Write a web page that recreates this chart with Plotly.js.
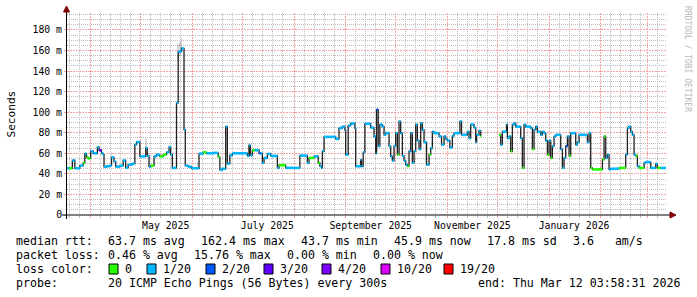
<!DOCTYPE html>
<html><head><meta charset="utf-8">
<script src="https://cdn.plot.ly/plotly-3.0.1.min.js"></script>
<style>html,body{margin:0;padding:0;background:#fff}</style>
</head><body><div id="chart" style="width:697px;height:297px"></div>
<script>
// ---- data ----
const stepStart = [
'2025-03-17 12:00','2025-03-19','2025-03-21','2025-03-22 12:00','2025-03-25 12:00','2025-03-27 12:00','2025-03-28 12:00','2025-03-29 12:00','2025-03-30 12:00',
'2025-04-01','2025-04-02 12:00','2025-04-05','2025-04-06','2025-04-07 12:00','2025-04-08 12:00','2025-04-09','2025-04-10 12:00','2025-04-12 12:00','2025-04-13 12:00',
'2025-04-15','2025-04-16','2025-04-18 12:00','2025-04-20 12:00','2025-04-22','2025-04-23 12:00','2025-04-26','2025-04-27 12:00','2025-04-28 12:00','2025-04-30 12:00',
'2025-05-04','2025-05-05','2025-05-06','2025-05-07','2025-05-09','2025-05-10 12:00','2025-05-12 12:00','2025-05-14 12:00','2025-05-16 12:00','2025-05-18','2025-05-19',
'2025-05-20','2025-05-22 12:00','2025-05-23 12:00','2025-05-25 12:00','2025-05-27','2025-05-27 18:00','2025-05-29 12:00','2025-05-31 12:00',
'2025-06-05','2025-06-07 12:00','2025-06-09 12:00','2025-06-13 12:00','2025-06-16 12:00','2025-06-17 12:00','2025-06-19','2025-06-21','2025-06-22','2025-06-23 12:00','2025-06-25',
'2025-07-04','2025-07-05','2025-07-05 18:00','2025-07-07','2025-07-08 12:00','2025-07-11','2025-07-12','2025-07-13','2025-07-14','2025-07-16','2025-07-18','2025-07-22','2025-07-23','2025-07-27',
'2025-08-04 12:00','2025-08-09','2025-08-10','2025-08-13','2025-08-15 12:00','2025-08-16 12:00','2025-08-17 12:00','2025-08-18','2025-08-19','2025-08-26','2025-08-28','2025-08-30','2025-08-31 12:00',
'2025-09-01','2025-09-02 12:00','2025-09-04','2025-09-06 12:00','2025-09-07','2025-09-10','2025-09-10 12:00','2025-09-11 12:00','2025-09-12 12:00','2025-09-16','2025-09-18','2025-09-19','2025-09-19 12:00',
'2025-09-20 12:00','2025-09-21 12:00','2025-09-23','2025-09-24','2025-09-25','2025-09-27','2025-09-28','2025-09-29','2025-09-30',
'2025-10-01','2025-10-02','2025-10-03','2025-10-04','2025-10-05','2025-10-06','2025-10-07','2025-10-08','2025-10-09','2025-10-10','2025-10-11','2025-10-12','2025-10-13','2025-10-14','2025-10-15',
'2025-10-16','2025-10-17','2025-10-18','2025-10-19 12:00','2025-10-21','2025-10-22','2025-10-23','2025-10-24','2025-10-27','2025-10-28 12:00','2025-10-30','2025-10-31',
'2025-11-01','2025-11-02 12:00','2025-11-04','2025-11-05','2025-11-08 12:00','2025-11-09 12:00','2025-11-13','2025-11-14','2025-11-15','2025-11-17','2025-11-18','2025-11-18 12:00','2025-11-20','2025-11-21','2025-11-21 12:00',
'2025-12-02','2025-12-03','2025-12-04','2025-12-06 12:00','2025-12-07','2025-12-08','2025-12-09','2025-12-10','2025-12-11','2025-12-12','2025-12-15','2025-12-16','2025-12-17','2025-12-18',
'2025-12-21','2025-12-22','2025-12-23','2025-12-24','2025-12-25','2025-12-27','2025-12-28','2025-12-29','2025-12-30','2025-12-31',
'2026-01-01','2026-01-02','2026-01-03','2026-01-04','2026-01-05','2026-01-08','2026-01-09','2026-01-10','2026-01-11','2026-01-12','2026-01-13','2026-01-14','2026-01-17','2026-01-18','2026-01-19',
'2026-01-24','2026-01-25','2026-01-26','2026-01-27',
'2026-02-02','2026-02-03','2026-02-04','2026-02-05','2026-02-06','2026-02-07','2026-02-12','2026-02-16','2026-02-17','2026-02-18','2026-02-19','2026-02-20','2026-02-21','2026-02-22','2026-02-23','2026-02-24','2026-02-27','2026-02-28',
'2026-03-03','2026-03-06','2026-03-07','2026-03-09'
];
const medianMs = [
45.5,45.5,53,45.5,48,50.7,59.7,56,55,
62,60,66,63,60,58.7,46.8,47.5,48,56,
52,47,48,53,46,49,50,68.4,71,57,
65,57.5,47,48,57,58.7,57,58.7,61,66,58.7,
45.8,109,159,162,83,48,47,45.5,
59.7,61,60,60.4,56.5,44,45,86,50,58,60,
57.5,67.8,58,63,63,60,60,50.7,55.5,59.4,57.5,45.8,48.4,45.8,
57.8,50.7,55.5,57,50.7,47.6,45.8,62,76,74,84.6,86,82.5,
58.7,87,89,84.6,47.4,53.7,47.4,61,88.8,85,76.5,60,102.4,
67,88,86,78,79.6,67,57,52.8,67,
79.6,58.7,91,79.6,57.5,52.8,49,47.6,62,79.6,50.7,62,88,72.4,64,
89.3,82.8,70.8,49,58.7,65,81,79.6,76.5,68.4,76.5,74,
72.4,65.7,77,79.6,91,78,81,74.7,88,85,70.8,78,82,76.5,null,
78,68.4,81,88,74.7,76.5,62,88,89.3,86,74.7,45.8,88,86,
84.6,64,83,86,81,78,81,79.6,72.4,58.7,
72.4,55.5,67,76.5,78,64,45.8,55.5,67,76.5,57.5,79.6,68.4,70.8,78,
70.8,79.6,45.8,44.3,
54,76.5,55.5,58.7,44.3,45,45.8,58.7,84.6,86,81,78,58.7,57.5,47.6,45.8,50.7,51.5,
45.8,49.7,45.8,45.8
];
// loss level index into lossLabels (0 = 0/20, 1 = 1/20, 2 = 2/20, 3 = 3/20 ...)
const lossLevel = [
1,0,1,1,1,0,1,0,0,
1,1,1,3,1,1,1,1,1,1,
1,1,1,1,1,1,1,1,1,1,
1,1,1,0,1,1,0,0,1,1,1,
1,1,1,1,1,1,1,1,
1,0,1,1,0,1,1,1,1,1,1,
1,1,1,0,1,2,1,1,1,1,1,1,0,1,
1,1,0,1,0,1,1,1,1,1,1,1,1,
1,1,1,1,1,1,1,1,1,1,1,1,2,
1,1,1,1,1,1,1,1,1,
1,0,1,1,1,1,1,0,1,1,1,1,1,1,1,
1,1,1,1,0,1,1,1,1,1,1,1,
1,1,1,1,1,1,1,1,1,1,1,1,1,0,0,
0,1,1,1,1,1,0,1,1,1,1,0,1,1,
1,0,1,1,1,1,1,1,1,0,
1,0,1,1,1,1,1,1,2,1,0,1,1,1,1,
1,1,0,0,
0,0,1,1,1,1,0,1,1,1,1,1,1,0,1,0,1,1,
1,1,0,1
];
// smoke (spread of the pings) where it is visible
const smokeDates = ['2025-04-13 12:00','2025-05-04','2025-05-23 12:00','2025-05-24 12:00','2025-05-25 12:00','2025-06-04','2025-07-05','2025-09-19 12:00','2026-02-17'];
const smokeLow  = [52, 57, 150, 155, 160, 45, 58, 62, 80];
const smokeHigh = [61, 75, 166, 168, 172, 52, 70, 103, 88];

const lossLabels = ['0','1/20','2/20','3/20','4/20','10/20','19/20'];
const lossColors = ['#26ff00','#00b8ff','#0059ff','#5e00ff','#7e00ff','#dd00ff','#ff0000'];
const yTickVals = [0,20,40,60,80,100,120,140,160,180];
const yTickText = ['0','20 m','40 m','60 m','80 m','100 m','120 m','140 m','160 m','180 m'];
const xLabelDates = ['2025-05-16','2025-07-16','2025-09-16','2025-11-16','2026-01-16'];
const xLabelText = ['May 2025','July 2025','September 2025','November 2025','January 2026'];
const rangeStart = '2025-03-17 19:00', rangeEnd = '2026-03-12 03:58:31';

// ---- grid positions (month starts, sub-grid days, 5 ms sub-grid) ----
function pad(n){return (n<10?'0':'')+n;}
const monthStarts = [], minorDays = [];
for (let y=2025; y<=2026; y++) for (let m=1; m<=12; m++){
  const s = y+'-'+pad(m)+'-01';
  if (s >= '2025-03-01' && s <= '2026-03-31'){
    monthStarts.push(s);
    [7,13,19,25].forEach(d=>minorDays.push(y+'-'+pad(m)+'-'+pad(d)));
  }
}
const yMinor = [];
for (let v=5; v<200; v+=5) if (v%20) yMinor.push(v);

// ---- traces ----
const traces = [];
traces.push({type:'bar', x:smokeDates, base:smokeLow, y:smokeHigh.map((h,i)=>h-smokeLow[i]),
  width:86400000, marker:{color:'rgba(0,0,0,0.16)', line:{width:0}}, hoverinfo:'skip', showlegend:false});
const lx = stepStart.concat([rangeEnd]);
const ly = medianMs.concat([medianMs[medianMs.length-1]]);
traces.push({type:'scatter', mode:'lines', x:lx, y:ly, line:{shape:'hv', color:'#202020', width:1.3},
  connectgaps:false, hoverinfo:'skip', showlegend:false});
lossColors.forEach((c,k)=>{
  const sx=[], sy=[];
  for (let i=0;i<stepStart.length;i++){
    if (medianMs[i]==null || lossLevel[i]!==k) continue;
    const tEnd = i+1<stepStart.length ? stepStart[i+1] : rangeEnd;
    sx.push(stepStart[i], tEnd, null); sy.push(medianMs[i], medianMs[i], null);
  }
  traces.push({type:'scatter', mode:'lines', x:sx, y:sy, line:{color:c, width:2.6},
    connectgaps:false, hoverinfo:'skip', showlegend:false});
});
traces.push({type:'scatter', mode:'lines', x:[], y:[], xaxis:'x2', yaxis:'y', showlegend:false});

// ---- pixel helpers for decorations ----
const L=67, R=666, T=13, B=215;
const px = v => (v-L)/(R-L);
const py = v => (B-v)/(B-T);
const MONO = 'DejaVu Sans Mono';
const legendFont = {family:MONO, size:11.6, color:'#000'};

const shapes = [
  {type:'line', xref:'paper', yref:'paper', x0:px(62), x1:px(670), y0:py(215), y1:py(215), line:{color:'#000', width:1}},
  {type:'line', xref:'paper', yref:'paper', x0:px(66.5), x1:px(66.5), y0:py(219), y1:py(12), line:{color:'#000', width:1}},
  {type:'path', xref:'paper', yref:'paper', path:`M ${px(670)} ${py(212)} L ${px(676)} ${py(215)} L ${px(670)} ${py(218)} Z`, fillcolor:'#7f0000', line:{color:'#7f0000', width:1}},
  {type:'path', xref:'paper', yref:'paper', path:`M ${px(63.5)} ${py(12)} L ${px(66.5)} ${py(6)} L ${px(69.5)} ${py(12)} Z`, fillcolor:'#7f0000', line:{color:'#7f0000', width:1}}
];
const annotations = [];
function txt(t, x, y, opts){ annotations.push(Object.assign({text:t, xref:'paper', yref:'paper', x:px(x), y:py(y), xanchor:'left', yanchor:'middle', showarrow:false, font:legendFont, borderpad:0}, opts||{})); }

txt('Seconds', 11, 114.5, {xanchor:'center', textangle:-90, font:{family:MONO, size:11.1, color:'#000'}});
txt('RRDTOOL / TOBI OETIKER', 687, 59, {xanchor:'center', textangle:90, font:{family:MONO, size:8, color:'#b8b8b8'}});

// legend rows: text pieces at their columns
const rtt = [['median rtt:',15],['63.7 ms avg',107],['162.4 ms max',200],['43.7 ms min',300],['45.9 ms now',393],['17.8 ms sd',486],['3.6   am/s',572]];
rtt.forEach(p=>txt(p[0], p[1], 241));
const pl = [['packet loss:',15],['0.46 % avg',107],['15.76 % max',193],['0.00 % min',286],['0.00 % now',372]];
pl.forEach(p=>txt(p[0], p[1], 255));
txt('loss color:', 15, 269);
const boxX = [109, 147, 206, 264, 322, 381, 444];
lossLabels.forEach((lab,k)=>{
  shapes.push({type:'rect', xref:'paper', yref:'paper', x0:px(boxX[k]), x1:px(boxX[k]+9), y0:py(274), y1:py(264),
    fillcolor:lossColors[k], line:{color:'#000', width:1}});
  txt(lab, boxX[k]+15, 269);
});
txt('probe:', 15, 283);
txt('20 ICMP Echo Pings (56 Bytes) every 300s', 107, 283);
txt('end: Thu Mar 12 03:58:31 2026', 681, 283, {xanchor:'right'});

const axisFont = {family:MONO, size:9.8, color:'#000'};
const MGRID = '#f0a4a4', GRID = '#bdbdbd';
const layout = {
  width:697, height:297,
  margin:{l:L, r:697-R, t:T, b:297-B},
  paper_bgcolor:'#fff', plot_bgcolor:'#fff',
  showlegend:false, bargap:0,
  xaxis:{type:'date', range:[rangeStart, rangeEnd], tickmode:'array', tickvals:monthStarts, ticktext:monthStarts.map(()=>''),
    showgrid:true, gridcolor:MGRID, griddash:'2px,1px', gridwidth:1,
    ticks:'outside', ticklen:2, tickcolor:MGRID,
    minor:{tickmode:'array', tickvals:minorDays, showgrid:true, gridcolor:GRID, griddash:'1px,1px', gridwidth:1, ticks:'outside', ticklen:2, tickcolor:GRID},
    showline:false, zeroline:false, fixedrange:true},
  xaxis2:{type:'date', overlaying:'x', anchor:'y', side:'bottom', range:[rangeStart, rangeEnd], tickmode:'array', tickvals:xLabelDates, ticktext:xLabelText,
    showgrid:false, ticks:'', ticklabelstandoff:3, tickfont:axisFont, showline:false, zeroline:false, fixedrange:true},
  yaxis:{range:[0,196.5], tickmode:'array', tickvals:yTickVals, ticktext:yTickText, tickfont:axisFont,
    showgrid:true, gridcolor:MGRID, griddash:'2px,1px', gridwidth:1,
    ticks:'outside', ticklen:2, tickcolor:MGRID,
    minor:{tickmode:'array', tickvals:yMinor, showgrid:true, gridcolor:GRID, griddash:'1px,1px', gridwidth:1},
    showline:false, zeroline:false, fixedrange:true},
  shapes:shapes, annotations:annotations
};
Plotly.newPlot('chart', traces, layout, {staticPlot:true, displayModeBar:false});
</script></body></html>
